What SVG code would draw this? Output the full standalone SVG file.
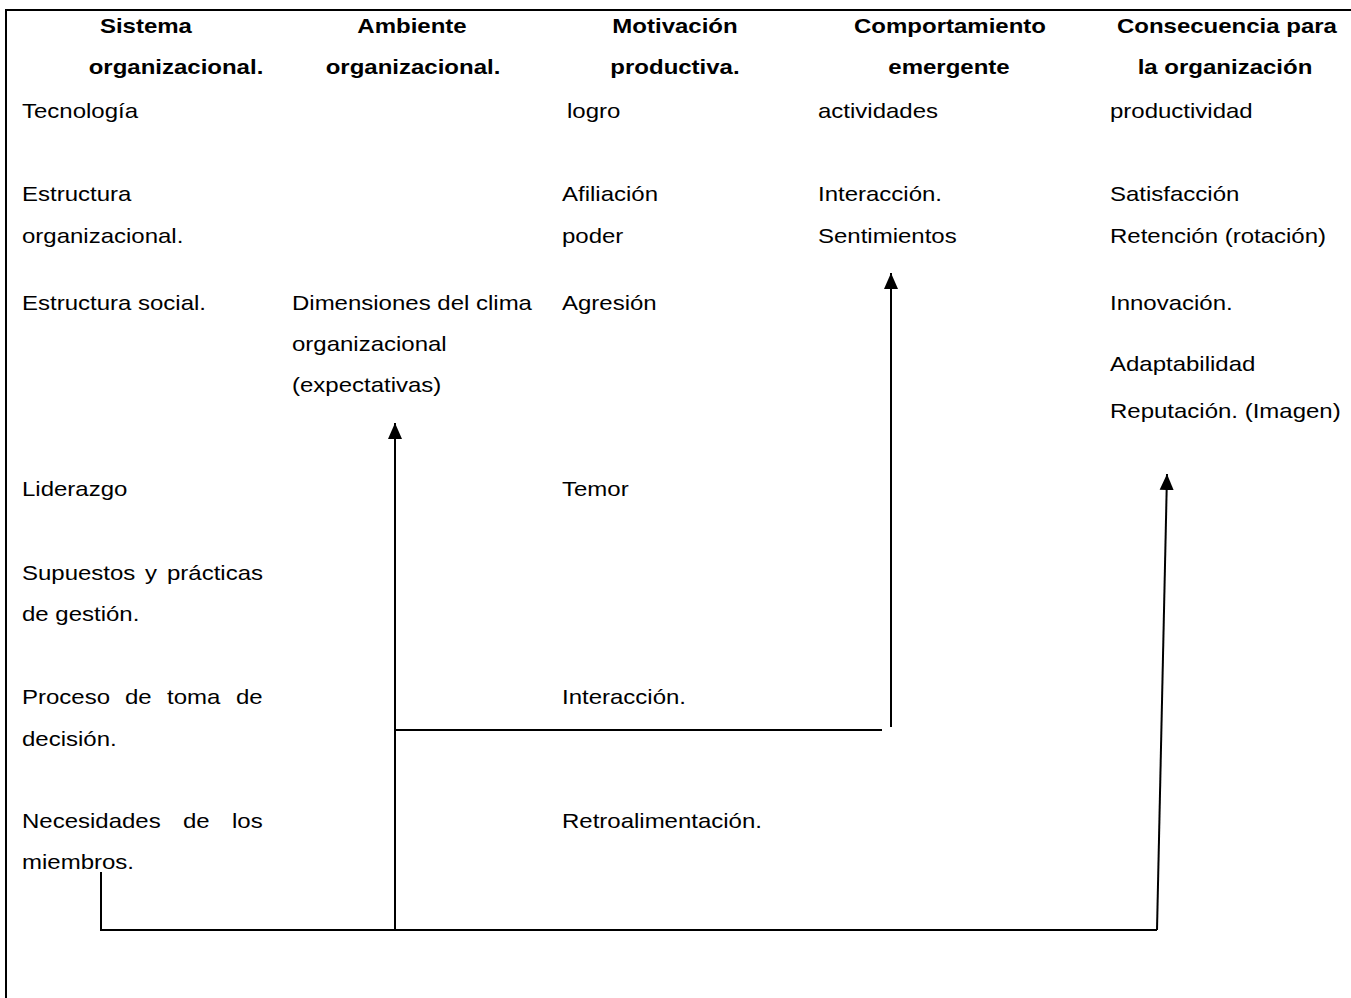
<svg xmlns="http://www.w3.org/2000/svg" width="1351" height="998" viewBox="0 0 1351 998">
  <defs>
    <style>
      text { font-family: "Liberation Sans", Arial, sans-serif; font-size: 20px; fill: #000; }
      .t { transform-box: fill-box; transform-origin: left center; transform: scaleX(1.2); }
      .h { font-weight: bold; text-anchor: middle; transform-box: fill-box; transform-origin: center; transform: scaleX(1.2); }
      .ln { fill: none; stroke: #000; stroke-width: 2; }
    </style>
    <marker id="arrow" markerUnits="userSpaceOnUse" markerWidth="16" markerHeight="16" viewBox="0 0 16 16" refX="16" refY="8" orient="auto">
      <path d="M0,1 L16,8 L0,15 Z" fill="#000"/>
    </marker>
  </defs>
  <rect width="1351" height="998" fill="#fff"/>

  <!-- frame -->
  <g id="frame" class="ln">
    <line x1="5" y1="10" x2="1351" y2="10"/>
    <line x1="6" y1="10" x2="6" y2="998"/>
  </g>

  <!-- column: organisational system -->
  <g id="col-sistema">
    <text class="h" x="146" y="33">Sistema</text>
    <text class="h" x="176" y="74">organizacional.</text>
    <text class="t" x="22" y="118">Tecnología</text>
    <text class="t" x="22" y="201">Estructura</text>
    <text class="t" x="22" y="243">organizacional.</text>
    <text class="t" x="22" y="310">Estructura social.</text>
    <text class="t" x="22" y="496">Liderazgo</text>
    <text class="t" x="22" y="580">Supuestos</text>
    <text class="t" x="145" y="580">y</text>
    <text class="t" x="167" y="580">prácticas</text>
    <text class="t" x="22" y="621">de gestión.</text>
    <text class="t" x="22" y="704">Proceso</text>
    <text class="t" x="125" y="704">de</text>
    <text class="t" x="167" y="704">toma</text>
    <text class="t" x="236" y="704">de</text>
    <text class="t" x="22" y="746">decisión.</text>
    <text class="t" x="22" y="828">Necesidades</text>
    <text class="t" x="183" y="828">de</text>
    <text class="t" x="232" y="828">los</text>
    <text class="t" x="22" y="869">miembros.</text>
  </g>

  <!-- column: organisational climate -->
  <g id="col-ambiente">
    <text class="h" x="412" y="33">Ambiente</text>
    <text class="h" x="413" y="74">organizacional.</text>
    <text class="t" x="292" y="310">Dimensiones del clima</text>
    <text class="t" x="292" y="351">organizacional</text>
    <text class="t" x="292" y="392">(expectativas)</text>
  </g>

  <!-- column: productive motivation -->
  <g id="col-motivacion">
    <text class="h" x="675" y="33">Motivación</text>
    <text class="h" x="675" y="74">productiva.</text>
    <text class="t" x="567" y="118">logro</text>
    <text class="t" x="562" y="201">Afiliación</text>
    <text class="t" x="562" y="243">poder</text>
    <text class="t" x="562" y="310">Agresión</text>
    <text class="t" x="562" y="496">Temor</text>
    <text class="t" x="562" y="704">Interacción.</text>
    <text class="t" x="562" y="828">Retroalimentación.</text>
  </g>

  <!-- column: emergent behaviour -->
  <g id="col-comportamiento">
    <text class="h" x="950" y="33">Comportamiento</text>
    <text class="h" x="949" y="74">emergente</text>
    <text class="t" x="818" y="118">actividades</text>
    <text class="t" x="818" y="201">Interacción.</text>
    <text class="t" x="818" y="243">Sentimientos</text>
  </g>

  <!-- column: consequences -->
  <g id="col-consecuencia">
    <text class="h" x="1227" y="33">Consecuencia para</text>
    <text class="h" x="1225" y="74">la organización</text>
    <text class="t" x="1110" y="118">productividad</text>
    <text class="t" x="1110" y="201">Satisfacción</text>
    <text class="t" x="1110" y="243">Retención (rotación)</text>
    <text class="t" x="1110" y="310">Innovación.</text>
    <text class="t" x="1110" y="371">Adaptabilidad</text>
    <text class="t" x="1110" y="418">Reputación. (Imagen)</text>
  </g>

  <!-- connectors -->
  <g id="connectors" class="ln">
    <polyline points="101,872 101,930 1157,930"/>
    <line x1="1157" y1="930" x2="1167" y2="474" marker-end="url(#arrow)"/>
    <line x1="395" y1="930" x2="395" y2="423" marker-end="url(#arrow)"/>
    <line x1="395" y1="730" x2="882" y2="730"/>
    <line x1="891" y1="727" x2="891" y2="273" marker-end="url(#arrow)"/>
  </g>
</svg>
